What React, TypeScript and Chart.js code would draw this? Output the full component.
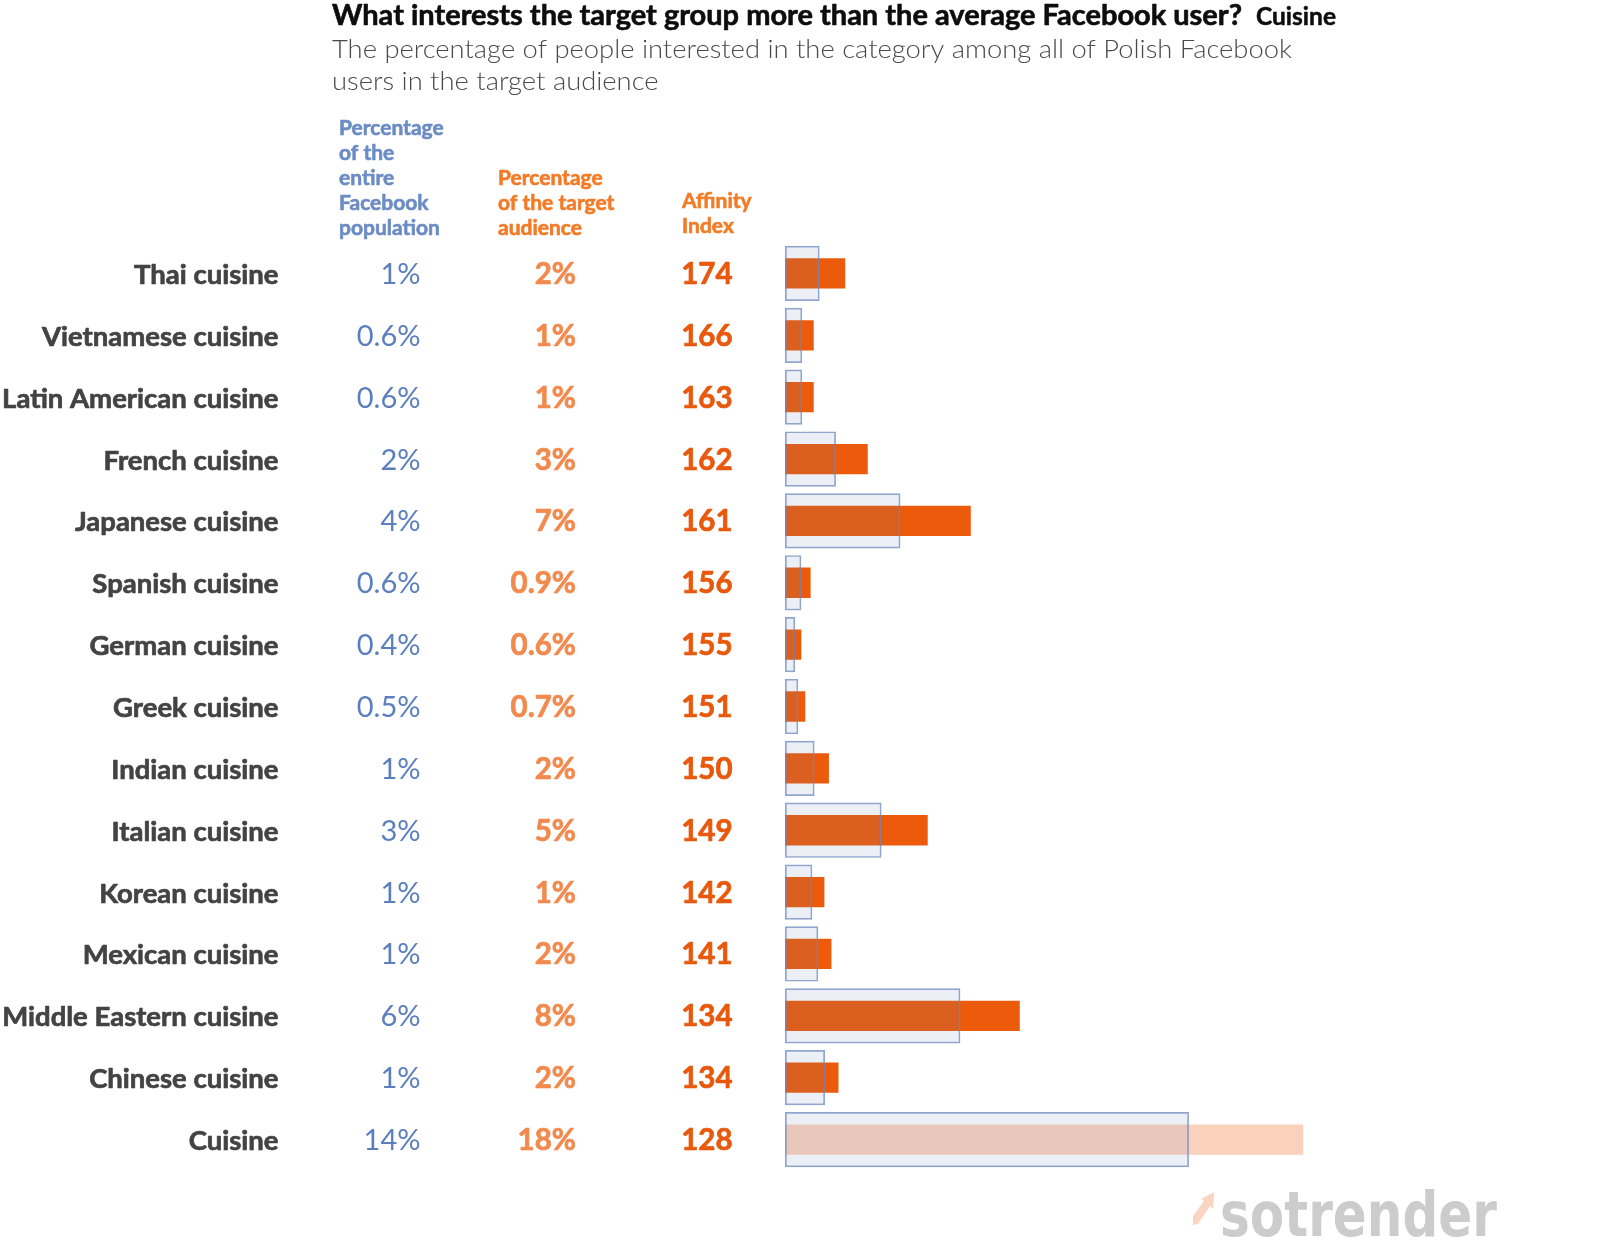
import React, { useEffect, useRef } from "react";
import { Chart, registerables } from "chart.js";

Chart.register(...registerables);

const categories = [
  "Thai cuisine",
  "Vietnamese cuisine",
  "Latin American cuisine",
  "French cuisine",
  "Japanese cuisine",
  "Spanish cuisine",
  "German cuisine",
  "Greek cuisine",
  "Indian cuisine",
  "Italian cuisine",
  "Korean cuisine",
  "Mexican cuisine",
  "Middle Eastern cuisine",
  "Chinese cuisine",
  "Cuisine",
];
const populationPct = [1.23, 0.61, 0.61, 1.81, 4.1, 0.58, 0.36, 0.47, 1.05, 3.43, 0.97, 1.18, 6.23, 1.42, 14.35];
const audiencePct = [2.14, 1.02, 1.02, 2.94, 6.6, 0.91, 0.58, 0.72, 1.56, 5.07, 1.4, 1.65, 8.34, 1.9, 18.41];
const populationLabels = ["1%", "0.6%", "0.6%", "2%", "4%", "0.6%", "0.4%", "0.5%", "1%", "3%", "1%", "1%", "6%", "1%", "14%"];
const audienceLabels = ["2%", "1%", "1%", "3%", "7%", "0.9%", "0.6%", "0.7%", "2%", "5%", "1%", "2%", "8%", "2%", "18%"];
const affinityIndex = [174, 166, 163, 162, 161, 156, 155, 151, 150, 149, 142, 141, 134, 134, 128];

const titleText = "What interests the target group more than the average Facebook user?";
const titleTag = "Cuisine";
const subtitleLines = [
  "The percentage of people interested in the category among all of Polish Facebook",
  "users in the target audience",
];
const headerPopulation = ["Percentage", "of the", "entire", "Facebook", "population"];
const headerAudience = ["Percentage", "of the target", "audience"];
const headerAffinity = ["Affinity", "Index"];
const logoText = "sotrender";

const ORANGE = "rgb(236,91,11)";
const ORANGE_LIGHT = "rgba(236,91,11,0.28)";

function fitText(
  ctx: CanvasRenderingContext2D,
  text: string,
  x: number,
  y: number,
  targetW: number,
  lo = 0.85,
  hi = 1.15,
  extra = 0
) {
  const w = ctx.measureText(text).width;
  let s = targetW / w;
  s = Math.max(lo, Math.min(hi, s));
  ctx.save();
  ctx.translate(x, y);
  ctx.scale(s, 1);
  ctx.fillText(text, 0, 0);
  if (extra > 0) {
    ctx.lineWidth = extra;
    ctx.strokeStyle = ctx.fillStyle as string;
    ctx.lineJoin = "round";
    ctx.strokeText(text, 0, 0);
  }
  ctx.restore();
  return s;
}

function drawBold(ctx: CanvasRenderingContext2D, text: string, x: number, y: number, extra: number) {
  ctx.fillText(text, x, y);
  if (extra > 0) {
    ctx.lineWidth = extra;
    ctx.strokeStyle = ctx.fillStyle as string;
    ctx.lineJoin = "round";
    ctx.strokeText(text, x, y);
  }
}

const textPlugin = {
  id: "tableText",
  afterDraw(chart: any) {
    const ctx: CanvasRenderingContext2D = chart.ctx;
    const yScale = chart.scales.y;
    ctx.save();
    ctx.textBaseline = "alphabetic";

    // Title
    ctx.fillStyle = "#0d0d0d";
    ctx.textAlign = "left";
    ctx.font = "bold 28px Lato";
    fitText(ctx, titleText, 332, 25, 910, 0.85, 1.15, 0.6);
    ctx.font = "bold 25px Lato";
    fitText(ctx, titleTag, 1256, 25, 80, 0.85, 1.15, 0.5);

    // Subtitle
    ctx.fillStyle = "#4a4a4a";
    ctx.font = "300 26px Lato";
    const s0 = fitText(ctx, subtitleLines[0], 332, 57.5, 960);
    ctx.save();
    ctx.translate(332, 89.5);
    ctx.scale(s0, 1);
    ctx.fillText(subtitleLines[1], 0, 0);
    ctx.restore();

    // Headers
    ctx.font = "bold 21px Lato";
    ctx.fillStyle = "#6b8cc4";
    headerPopulation.forEach((t, i) => drawBold(ctx, t, 339, 135 + i * 25, 0.6));
    ctx.fillStyle = "#f47b26";
    headerAudience.forEach((t, i) => drawBold(ctx, t, 498, 185 + i * 25, 0.6));
    headerAffinity.forEach((t, i) => drawBold(ctx, t, 682, 208 + i * 25, 0.6));

    // Rows
    categories.forEach((c, i) => {
      const cy = yScale.getPixelForValue(i);
      const base = cy + 10.5;
      ctx.textAlign = "right";
      ctx.font = "bold 27.5px Lato";
      ctx.fillStyle = "#434343";
      drawBold(ctx, c, 278.5, base, 0.7);
      ctx.font = "29px Lato";
      ctx.fillStyle = "#5b7fbe";
      ctx.fillText(populationLabels[i], 420.5, base);
      ctx.font = "bold 29.5px Lato";
      ctx.fillStyle = "#f28a4e";
      drawBold(ctx, audienceLabels[i], 576, base, 0.7);
      ctx.fillStyle = "#e8590d";
      drawBold(ctx, String(affinityIndex[i]), 732.5, base, 0.7);
    });

    // Logo
    ctx.textAlign = "left";
    ctx.fillStyle = "#cbcccb";
    ctx.font = "bold 62px 'DejaVu Sans'";
    fitText(ctx, logoText, 1220, 1236, 277, 0.6, 1.2);
    ctx.fillStyle = "rgba(249,208,186,0.9)";
    ctx.beginPath();
    ctx.moveTo(1193, 1216);
    ctx.lineTo(1204, 1201);
    ctx.lineTo(1201, 1199);
    ctx.lineTo(1214, 1192);
    ctx.lineTo(1213, 1209);
    ctx.lineTo(1210, 1206);
    ctx.lineTo(1198, 1224);
    ctx.lineTo(1193, 1225);
    ctx.closePath();
    ctx.fill();

    ctx.restore();
  },
};

export default function App() {
  const ref = useRef<HTMLCanvasElement | null>(null);
  useEffect(() => {
    if (!ref.current) return;
    const chart = new Chart(ref.current, {
      type: "bar",
      data: {
        labels: categories,
        datasets: [
          {
            label: "Percentage of the entire Facebook population",
            data: populationPct,
            backgroundColor: "rgba(100,130,180,0.12)",
            borderColor: "rgba(105,135,190,0.75)",
            borderWidth: 1.7,
            borderSkipped: false,
            grouped: false,
            categoryPercentage: 1,
            barPercentage: 0.893,
          } as any,
          {
            label: "Percentage of the target audience",
            data: audiencePct,
            backgroundColor: audiencePct.map((_, i) => (i === audiencePct.length - 1 ? ORANGE_LIGHT : ORANGE)),
            borderWidth: 0,
            grouped: false,
            categoryPercentage: 1,
            barPercentage: 0.49,
          } as any,
        ],
      },
      options: {
        indexAxis: "y",
        responsive: false,
        animation: false,
        devicePixelRatio: 1,
        layout: { padding: { left: 785, right: 111.25, top: 242.5, bottom: 81.5 } },
        scales: {
          x: { display: false, min: 0, max: 25 },
          y: { display: false },
        },
        plugins: {
          legend: { display: false },
          tooltip: { enabled: false },
          title: { display: false },
        },
      },
      plugins: [textPlugin],
    });
    const fonts = (document as any).fonts;
    if (fonts && fonts.load) {
      Promise.all([
        fonts.load("bold 28px Lato"),
        fonts.load("300 26px Lato"),
        fonts.load("29px Lato"),
        fonts.load("bold 62px 'DejaVu Sans'"),
      ])
        .then(() => chart.draw())
        .catch(() => {});
    }
    return () => chart.destroy();
  }, []);
  return (
    <div style={{ position: "absolute", left: 0, top: 0, width: 1600, height: 1252, background: "#ffffff" }}>
      <canvas ref={ref} width={1600} height={1252} style={{ display: "block" }} />
    </div>
  );
}
